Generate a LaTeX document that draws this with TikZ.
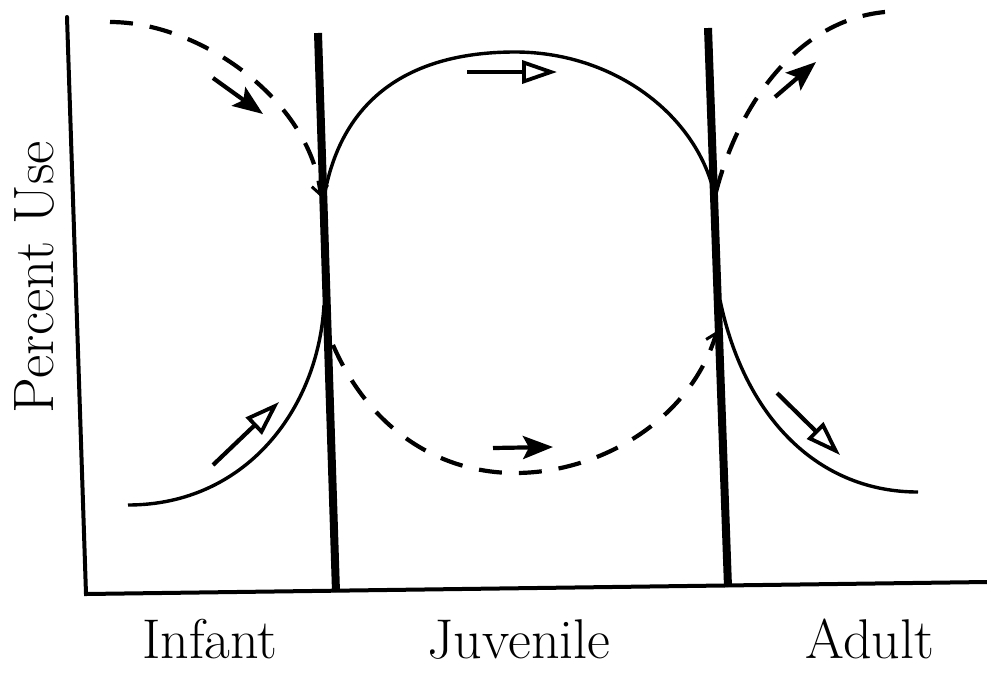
\documentclass[tikz,border=0pt]{standalone}
\usetikzlibrary{arrows.meta}
\begin{document}
\begin{tikzpicture}[x=1pt,y=-1pt,
  axisline/.style={line width=4pt,line cap=round},
  stageline/.style={line width=8pt},
  usecurve/.style={line width=3.4pt},
  dashcurve/.style={line width=4.2pt,dash pattern=on 23pt off 17pt},
  barbend/.style={-{Straight Barb[length=9pt,width=16pt,line width=3pt]}},
  filledarrow/.style={line width=4.2pt,-{Stealth[length=30pt,width=23pt,inset=6pt]}},
  openarrow/.style={line width=4.2pt,-{Triangle[open,length=35pt,width=23pt,line width=3.8pt]}},
  stagelabel/.style={font=\fontsize{56}{60}\selectfont,anchor=base,inner sep=0pt},
  ylabel/.style={font=\fontsize{57}{62}\selectfont,rotate=90,inner sep=0pt}]
\useasboundingbox (0,0) rectangle (987,672);
% axes
\coordinate (ytop) at (67,17);
\coordinate (origin) at (86,594);
\coordinate (xend) at (987,582);
\draw[axisline] (ytop) -- (origin) -- (xend);
% stage boundaries
\coordinate (b1top) at (318,33);
\coordinate (b1bot) at (336,592);
\coordinate (b2top) at (708,28);
\coordinate (b2bot) at (728,587);
\draw[stageline] (b1top) -- (b1bot);
\draw[stageline] (b2top) -- (b2bot);
% curve end points
\coordinate (i1) at (128,505);
\coordinate (i2) at (324,305);
\coordinate (d1) at (110,22);
\coordinate (d2) at (321,197);
\coordinate (h1) at (325,192);
\coordinate (hpeak) at (515,52);
\coordinate (h2) at (712,185);
\coordinate (j1) at (333,345);
\coordinate (jlow) at (515,473);
\coordinate (j2) at (717,331);
\coordinate (a1) at (716,192);
\coordinate (a2) at (885,12);
\coordinate (s1) at (720,300);
\coordinate (s2) at (918,492);
% solid curves
\draw[usecurve] (i1) .. controls (245,505) and (318,410) .. (i2);
\draw[usecurve] (h1) .. controls (345,90) and (420,52) .. (hpeak)
                     .. controls (610,52) and (690,110) .. (h2);
\draw[usecurve] (s1) .. controls (745,420) and (820,492) .. (s2);
% dashed curves
\draw[dashcurve,barbend] (d1) .. controls (200,22) and (310,100) .. (d2);
\draw[dashcurve,barbend] (j1) .. controls (370,430) and (440,473) .. (jlow)
                     .. controls (600,473) and (690,420) .. (j2);
\draw[dashcurve] (a1) .. controls (740,100) and (800,20) .. (a2);
% direction arrows
\coordinate (fa1) at (213,78);  \coordinate (fa2) at (263,114);
\coordinate (fb1) at (493,448); \coordinate (fb2) at (553,447);
\coordinate (fc1) at (775,97);  \coordinate (fc2) at (816,62);
\coordinate (oa1) at (467,72);  \coordinate (oa2) at (557,72);
\coordinate (ob1) at (213,465); \coordinate (ob2) at (279,402);
\coordinate (oc1) at (777,393); \coordinate (oc2) at (840,455);
\draw[filledarrow] (fa1) -- (fa2);
\draw[filledarrow] (fb1) -- (fb2);
\draw[filledarrow] (fc1) -- (fc2);
\draw[openarrow] (oa1) -- (oa2);
\draw[openarrow] (ob1) -- (ob2);
\draw[openarrow] (oc1) -- (oc2);
% labels
\node[ylabel] (yl) at (34,277) {Percent Use};
\node[stagelabel] (inf) at (210,658) {Infant};
\node[stagelabel] (juv) at (519,658) {Juvenile};
\node[stagelabel] (adu) at (870,658) {Adult};
\end{tikzpicture}
\end{document}
